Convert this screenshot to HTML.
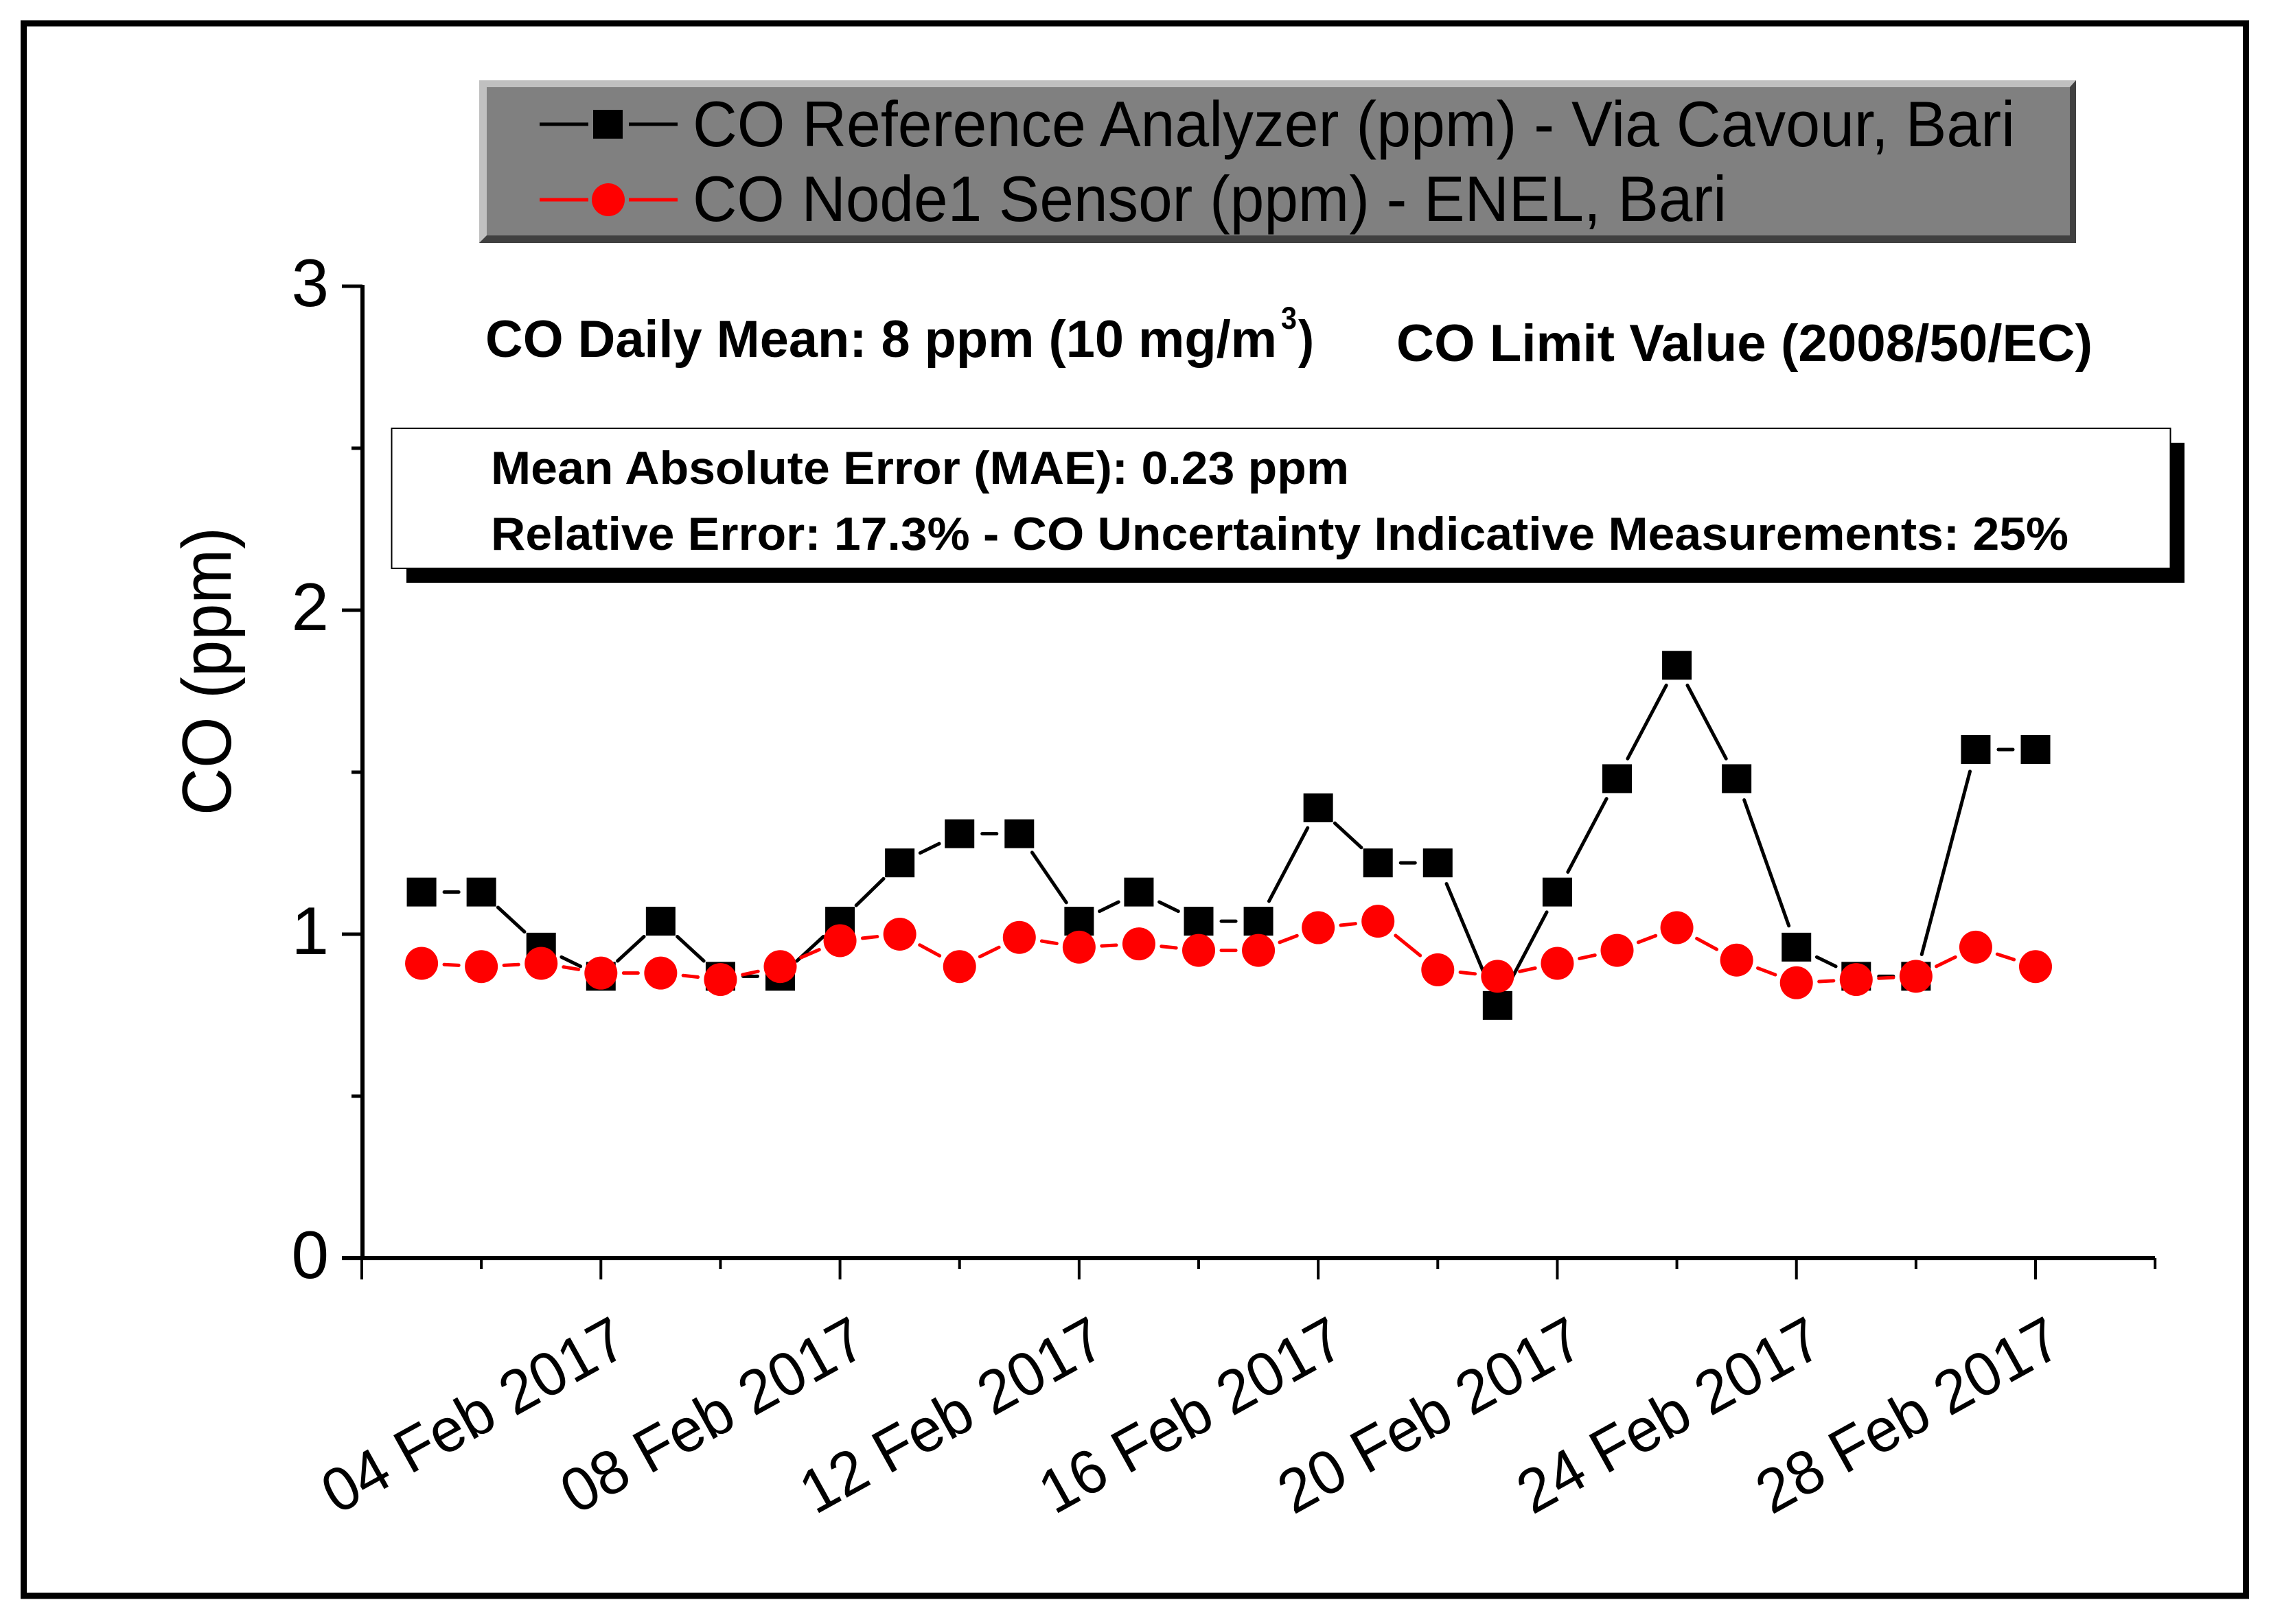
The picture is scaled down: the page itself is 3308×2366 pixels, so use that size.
<!DOCTYPE html>
<html>
<head>
<meta charset="utf-8">
<title>CO Reference Analyzer vs Node1 Sensor</title>
<style>
html,body{margin:0;padding:0;background:#fff;}
svg{display:block;}
text{font-family:"Liberation Sans",Arial,sans-serif;fill:#000;}
.b{font-weight:bold;}
</style>
</head>
<body>
<svg id="chart" xmlns="http://www.w3.org/2000/svg" width="3308" height="2366" viewBox="0 0 3308 2366">
  <rect x="0" y="0" width="3308" height="2366" fill="#ffffff"/>
  <rect x="34.5" y="34" width="3237" height="2291" fill="none" stroke="#000" stroke-width="9"/>

  <g>
    <rect x="698" y="117" width="2326" height="237" fill="#808080"/>
    <polygon points="698,117 3024,117 3015,127 709,127 709,343 698,354" fill="#c0c0c0"/>
    <polygon points="3024,117 3024,354 698,354 709,343 3015,343 3015,127" fill="#404040"/>
    <line x1="786" y1="181" x2="857" y2="181" stroke="#000" stroke-width="5"/>
    <line x1="916" y1="181" x2="987" y2="181" stroke="#000" stroke-width="5"/>
    <rect x="864" y="160" width="43" height="42" fill="#000"/>
    <line x1="786" y1="291" x2="857" y2="291" stroke="#f00" stroke-width="5"/>
    <line x1="916" y1="291" x2="987" y2="291" stroke="#f00" stroke-width="5"/>
    <circle cx="886" cy="291" r="24" fill="#f00"/>
    <text x="1009" y="213" font-size="94" textLength="1926" lengthAdjust="spacingAndGlyphs">CO Reference Analyzer (ppm) - Via Cavour, Bari</text>
    <text x="1009" y="322" font-size="94" textLength="1506" lengthAdjust="spacingAndGlyphs">CO Node1 Sensor (ppm) - ENEL, Bari</text>
  </g>

  <text class="b" x="707" y="520" font-size="76" textLength="1153" lengthAdjust="spacingAndGlyphs">CO Daily Mean: 8 ppm (10 mg/m</text>
  <text class="b" x="1866" y="479" font-size="45" textLength="23" lengthAdjust="spacingAndGlyphs">3</text>
  <text class="b" x="1891" y="520" font-size="76" textLength="23" lengthAdjust="spacingAndGlyphs">)</text>
  <text class="b" x="2034" y="526" font-size="76" textLength="1014" lengthAdjust="spacingAndGlyphs">CO Limit Value (2008/50/EC)</text>

  <g>
    <rect x="592" y="645" width="2590" height="204" fill="#000"/>
    <rect x="570.5" y="624" width="2591" height="204" fill="#fff" stroke="#000" stroke-width="2"/>
    <text class="b" x="715" y="705" font-size="68" textLength="1250" lengthAdjust="spacingAndGlyphs">Mean Absolute Error (MAE): 0.23 ppm</text>
    <text class="b" x="715" y="801" font-size="68" textLength="2298" lengthAdjust="spacingAndGlyphs">Relative Error: 17.3% - CO Uncertainty Indicative Measurements: 25%</text>
  </g>

  <text transform="translate(336,1188) rotate(-90)" x="0" y="0" font-size="101" textLength="420" lengthAdjust="spacingAndGlyphs">CO (ppm)</text>

  <g id="axes"></g>
  <g id="series-reference"></g>
  <g id="series-sensor"></g>
</svg>

<script>
const days = [1,2,3,4,5,6,7,8,9,10,11,12,13,14,15,16,17,18,19,20,21,22,23,24,25,26,27,28];
const referenceValues = [1.13,1.13,0.96,0.87,1.04,0.87,0.87,1.04,1.22,1.31,1.31,1.04,1.13,1.04,1.04,1.39,1.22,1.22,0.78,1.13,1.48,1.83,1.48,0.96,0.87,0.87,1.57,1.57];
const sensorValues = [0.91,0.90,0.91,0.88,0.88,0.86,0.90,0.98,1.00,0.90,0.99,0.96,0.97,0.95,0.95,1.02,1.04,0.89,0.87,0.91,0.95,1.02,0.92,0.85,0.86,0.87,0.96,0.90];
const yMajorTicks = [0,1,2,3];
const yMinorTicks = [0.5,1.5,2.5];
const xMajorTicks = [0,4,8,12,16,20,24,28];
const xMinorTicks = [2,6,10,14,18,22,26,30];
const xLabelDays = [4,8,12,16,20,24,28];
const xLabels = ["04 Feb 2017","08 Feb 2017","12 Feb 2017","16 Feb 2017","20 Feb 2017","24 Feb 2017","28 Feb 2017"];

const NS = "http://www.w3.org/2000/svg";
function xScale(d){ return 527 + d * (2965 - 527) / 28; }
function yScale(v){ return 1833 - v * 472; }
function make(parent, tag, attrs, text){
  const el = document.createElementNS(NS, tag);
  for (const k in attrs) el.setAttribute(k, attrs[k]);
  if (text !== undefined) el.textContent = text;
  parent.appendChild(el);
  return el;
}

const axes = document.getElementById("axes");

const yAxisLine = make(axes, "line", {x1:528, y1:yScale(3)-2, x2:528, y2:yScale(0), stroke:"#000", "stroke-width":6});



const xAxisLine = make(axes, "line", {x1:498, y1:1833, x2:3139, y2:1833, stroke:"#000", "stroke-width":6});



yMajorTicks.forEach(function(v){
  const tick = make(axes, "line", {x1:498, y1:yScale(v), x2:528, y2:yScale(v), stroke:"#000", "stroke-width":5});
  
  
  const label = make(axes, "text", {x:479, y:yScale(v)+29, "font-size":98, "text-anchor":"end"}, String(v));
  
  
});

yMinorTicks.forEach(function(v){
  const tick = make(axes, "line", {x1:512, y1:yScale(v), x2:528, y2:yScale(v), stroke:"#000", "stroke-width":5});
  
  
});

xMajorTicks.forEach(function(d){
  const tick = make(axes, "line", {x1:xScale(d), y1:1833, x2:xScale(d), y2:1864, stroke:"#000", "stroke-width":4});
  
  
});

xMinorTicks.forEach(function(d){
  const tick = make(axes, "line", {x1:xScale(d), y1:1833, x2:xScale(d), y2:1849, stroke:"#000", "stroke-width":4});
  
  
});

xLabels.forEach(function(t, i){
  const ex = xScale(xLabelDays[i]) + 44;
  const label = make(axes, "text", {transform:"translate(" + ex + ",1970) rotate(-29)", x:-490, y:0, "font-size":90, textLength:490, lengthAdjust:"spacingAndGlyphs"}, t);
  
  
});

function drawSegments(group, values, color){
  const gap = 33;
  for (let i = 0; i < values.length - 1; i++){
    const x1 = xScale(days[i]), y1 = yScale(values[i]);
    const x2 = xScale(days[i+1]), y2 = yScale(values[i+1]);
    const dx = x2 - x1, dy = y2 - y1, len = Math.sqrt(dx*dx + dy*dy);
    if (len <= gap * 2) continue;
    const ux = dx / len, uy = dy / len;
    const seg = make(group, "line", {x1:x1+ux*gap, y1:y1+uy*gap, x2:x2-ux*gap, y2:y2-uy*gap, stroke:color, "stroke-width":5, "stroke-linecap":"round"});
    
    
  }
}

const refGroup = document.getElementById("series-reference");
drawSegments(refGroup, referenceValues, "#000");
referenceValues.forEach(function(v, i){
  const pt = make(refGroup, "rect", {x:xScale(days[i])-21.5, y:yScale(v)-21, width:43, height:42, fill:"#000"});
  
  
});

const senGroup = document.getElementById("series-sensor");
drawSegments(senGroup, sensorValues, "#f00");
sensorValues.forEach(function(v, i){
  const pt = make(senGroup, "circle", {cx:xScale(days[i]), cy:yScale(v), r:24, fill:"#f00"});
  
  
});
</script>
</body>
</html>
